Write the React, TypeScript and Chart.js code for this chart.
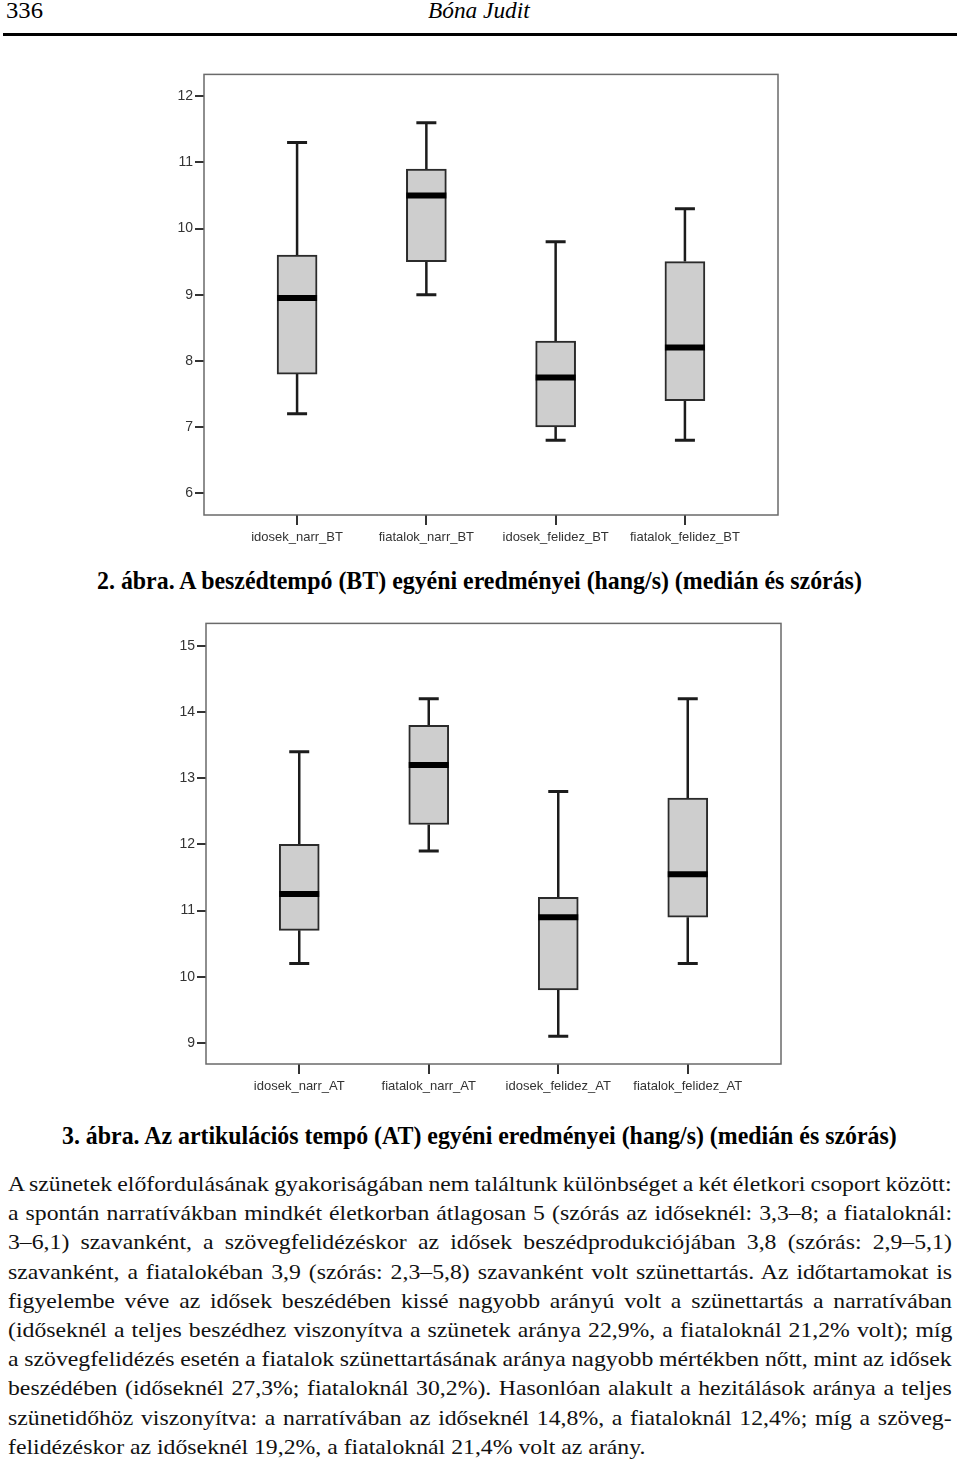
import React, { useEffect, useLayoutEffect, useRef } from "react";
import { Chart, registerables } from "chart.js";

Chart.register(...registerables);

// ---- Figure 2: beszédtempó (BT) ----
const btCategories = ["idosek_narr_BT", "fiatalok_narr_BT", "idosek_felidez_BT", "fiatalok_felidez_BT"];
const btMin = [7.2, 9.0, 6.8, 6.8];
const btQ1 = [7.8, 9.5, 7.0, 7.4];
const btMedian = [8.95, 10.5, 7.75, 8.2];
const btQ3 = [9.6, 10.9, 8.3, 9.5];
const btMax = [11.3, 11.6, 9.8, 10.3];
const btTicks = [6, 7, 8, 9, 10, 11, 12];

// ---- Figure 3: artikulációs tempó (AT) ----
const atCategories = ["idosek_narr_AT", "fiatalok_narr_AT", "idosek_felidez_AT", "fiatalok_felidez_AT"];
const atMin = [10.2, 11.9, 9.1, 10.2];
const atQ1 = [10.7, 12.3, 9.8, 10.9];
const atMedian = [11.25, 13.2, 10.9, 11.55];
const atQ3 = [12.0, 13.8, 11.2, 12.7];
const atMax = [13.4, 14.2, 12.8, 14.2];
const atTicks = [9, 10, 11, 12, 13, 14, 15];

const headerPage = "336";
const headerAuthor = "Bóna Judit";
const caption2 = "2. ábra. A beszédtempó (BT) egyéni eredményei (hang/s) (medián és szórás)";
const caption3 = "3. ábra. Az artikulációs tempó (AT) egyéni eredményei (hang/s) (medián és szórás)";

const bodyLines = [
  "A szünetek előfordulásának gyakoriságában nem találtunk különbséget a két életkori csoport között:",
  "a spontán narratívákban mindkét életkorban átlagosan 5 (szórás az időseknél: 3,3–8; a fiataloknál:",
  "3–6,1) szavanként, a szövegfelidézéskor az idősek beszédprodukciójában 3,8 (szórás: 2,9–5,1)",
  "szavanként, a fiatalokéban 3,9 (szórás: 2,3–5,8) szavanként volt szünettartás. Az időtartamokat is",
  "figyelembe véve az idősek beszédében kissé nagyobb arányú volt a szünettartás a narratívában",
  "(időseknél a teljes beszédhez viszonyítva a szünetek aránya 22,9%, a fiataloknál 21,2% volt); míg",
  "a szövegfelidézés esetén a fiatalok szünettartásának aránya nagyobb mértékben nőtt, mint az idősek",
  "beszédében (időseknél 27,3%; fiataloknál 30,2%). Hasonlóan alakult a hezitálások aránya a teljes",
  "szünetidőhöz viszonyítva: a narratívában az időseknél 14,8%, a fiataloknál 12,4%; míg a szöveg-",
  "felidézéskor az időseknél 19,2%, a fiataloknál 21,4% volt az arány.",
];

const SERIF = '"Liberation Serif", "Times New Roman", serif';
const SANS = '"Liberation Sans", Arial, sans-serif';

type BoxProps = {
  categories: string[];
  mins: number[];
  q1s: number[];
  medians: number[];
  q3s: number[];
  maxs: number[];
  ticks: number[];
  yMin: number;
  yMax: number;
  left: number;
  top: number;
  width: number;
  height: number;
};

function BoxChart(p: BoxProps) {
  const ref = useRef<HTMLCanvasElement>(null);
  useEffect(() => {
    const boxPlugin = {
      id: "boxparts",
      beforeDatasetsDraw(chart: any) {
        const { ctx } = chart;
        const xs = chart.scales.x;
        const ys = chart.scales.y;
        ctx.save();
        ctx.strokeStyle = "#1c1c1c";
        for (let i = 0; i < p.categories.length; i++) {
          const px = xs.getPixelForValue(i);
          ctx.lineWidth = 2.5;
          ctx.beginPath();
          ctx.moveTo(px, ys.getPixelForValue(p.q3s[i]));
          ctx.lineTo(px, ys.getPixelForValue(p.maxs[i]));
          ctx.moveTo(px, ys.getPixelForValue(p.q1s[i]));
          ctx.lineTo(px, ys.getPixelForValue(p.mins[i]));
          ctx.stroke();
          ctx.lineWidth = 3;
          ctx.beginPath();
          ctx.moveTo(px - 10, ys.getPixelForValue(p.maxs[i]));
          ctx.lineTo(px + 10, ys.getPixelForValue(p.maxs[i]));
          ctx.moveTo(px - 10, ys.getPixelForValue(p.mins[i]));
          ctx.lineTo(px + 10, ys.getPixelForValue(p.mins[i]));
          ctx.stroke();
        }
        ctx.restore();
      },
      afterDatasetsDraw(chart: any) {
        const { ctx } = chart;
        const xs = chart.scales.x;
        const ys = chart.scales.y;
        ctx.save();
        ctx.strokeStyle = "#000";
        ctx.lineWidth = 6;
        for (let i = 0; i < p.categories.length; i++) {
          const px = xs.getPixelForValue(i);
          const py = ys.getPixelForValue(p.medians[i]);
          ctx.beginPath();
          ctx.moveTo(px - 20, py);
          ctx.lineTo(px + 20, py);
          ctx.stroke();
        }
        ctx.restore();
      },
    };
    const framePlugin = {
      id: "frame",
      afterDraw(chart: any) {
        const { ctx, chartArea: a } = chart;
        ctx.save();
        ctx.strokeStyle = "#6a6a6a";
        ctx.lineWidth = 1.5;
        ctx.strokeRect(a.left, a.top, a.right - a.left, a.bottom - a.top);
        ctx.restore();
      },
    };
    const chart = new Chart(ref.current as HTMLCanvasElement, {
      type: "bar",
      data: {
        datasets: [
          {
            data: p.categories.map((_, i) => ({ x: i, y: [p.q1s[i], p.q3s[i]] })) as any,
            backgroundColor: "#cecece",
            borderColor: "#2b2b2b",
            borderWidth: 2,
            borderSkipped: false,
            barThickness: 40,
          },
        ],
      },
      options: {
        animation: false,
        responsive: false,
        maintainAspectRatio: false,
        layout: { padding: { top: 10, right: 10, left: 0, bottom: 0 } },
        plugins: { legend: { display: false }, tooltip: { enabled: false } },
        scales: {
          x: {
            type: "linear",
            min: -0.72,
            max: 3.72,
            offset: false,
            afterBuildTicks: (s: any) => {
              s.ticks = p.categories.map((_, i) => ({ value: i }));
            },
            afterFit: (s: any) => {
              s.height = 40;
            },
            ticks: {
              autoSkip: false,
              maxRotation: 0,
              padding: 5,
              color: "#333",
              font: { family: SANS, size: 13 },
              callback: (v: any) => p.categories[Math.round(Number(v))] ?? "",
            },
            grid: { drawOnChartArea: false, offset: false, tickLength: 10, color: "#333", lineWidth: 2 },
            border: { display: false },
          },
          y: {
            type: "linear",
            min: p.yMin,
            max: p.yMax,
            afterBuildTicks: (s: any) => {
              s.ticks = p.ticks.map((v) => ({ value: v }));
            },
            afterFit: (s: any) => {
              s.width = 64;
            },
            ticks: {
              padding: 2,
              color: "#333",
              font: { family: SANS, size: 14 },
              callback: (v: any) => String(v),
            },
            grid: { drawOnChartArea: false, tickLength: 9, color: "#333", lineWidth: 2 },
            border: { display: false },
          },
        },
      } as any,
      plugins: [boxPlugin, framePlugin],
    });
    return () => chart.destroy();
  }, []);
  return (
    <canvas
      ref={ref}
      width={p.width}
      height={p.height}
      style={{ position: "absolute", left: p.left, top: p.top, width: p.width, height: p.height }}
    />
  );
}

function FitText(props: {
  text: string;
  left: number;
  baseline: number;
  width: number;
  fontSize: number;
  bold?: boolean;
  italic?: boolean;
}) {
  const ref = useRef<HTMLSpanElement>(null);
  useLayoutEffect(() => {
    const el = ref.current;
    if (!el) return;
    const w = el.offsetWidth || 1;
    el.style.transform = `scaleX(${props.width / w})`;
  }, []);
  return (
    <span
      ref={ref}
      style={{
        position: "absolute",
        left: props.left,
        top: props.baseline - 0.8375 * props.fontSize,
        fontSize: props.fontSize,
        lineHeight: `${props.fontSize}px`,
        fontFamily: SERIF,
        fontWeight: props.bold ? "bold" : "normal",
        fontStyle: props.italic ? "italic" : "normal",
        whiteSpace: "nowrap",
        transformOrigin: "left top",
        color: "#000",
      }}
    >
      {props.text}
    </span>
  );
}

const TEXT_LEFT = 8;
const TEXT_WIDTH = 944;
const LAST_LINE_WIDTH = 638;
const LINE_H = 29.2;
const BODY_FS = 22;

function Paragraph() {
  const wrapRef = useRef<HTMLDivElement>(null);
  const lineRefs = useRef<(HTMLSpanElement | null)[]>([]);
  useLayoutEffect(() => {
    const spans = lineRefs.current;
    const last = spans[spans.length - 1];
    if (!last || !wrapRef.current) return;
    const s = LAST_LINE_WIDTH / (last.offsetWidth || 1);
    const W = TEXT_WIDTH / s;
    wrapRef.current.style.transform = `scaleX(${s})`;
    wrapRef.current.style.width = `${W}px`;
    spans.forEach((sp, i) => {
      if (!sp || i === spans.length - 1) return;
      const n = (bodyLines[i].match(/ /g) || []).length || 1;
      const ws = (W - sp.offsetWidth) / n;
      sp.style.wordSpacing = `${ws}px`;
    });
  }, []);
  return (
    <div
      ref={wrapRef}
      style={{
        position: "absolute",
        left: TEXT_LEFT,
        top: 1191 - 22,
        width: TEXT_WIDTH,
        transformOrigin: "left top",
        fontFamily: SERIF,
        fontSize: BODY_FS,
        lineHeight: `${LINE_H}px`,
        color: "#111",
      }}
    >
      {bodyLines.map((ln, i) => (
        <div key={i} style={{ height: LINE_H, whiteSpace: "nowrap" }}>
          <span
            ref={(el) => {
              lineRefs.current[i] = el;
            }}
          >
            {ln}
          </span>
        </div>
      ))}
    </div>
  );
}

export default function App() {
  return (
    <div
      style={{
        position: "absolute",
        left: 0,
        top: 0,
        width: 960,
        height: 1468,
        overflow: "hidden",
        background: "#fff",
      }}
    >
      <FitText text={headerPage} left={6} baseline={18} width={37} fontSize={24} />
      <FitText text={headerAuthor} left={428} baseline={18} width={102} fontSize={24} italic />
      <div style={{ position: "absolute", left: 3, top: 33, width: 954, height: 2.5, background: "#000" }} />

      <BoxChart
        categories={btCategories}
        mins={btMin}
        q1s={btQ1}
        medians={btMedian}
        q3s={btQ3}
        maxs={btMax}
        ticks={btTicks}
        yMin={5.67}
        yMax={12.33}
        left={140}
        top={64}
        width={648}
        height={491}
      />
      <FitText text={caption2} left={97} baseline={589} width={765} fontSize={25} bold />

      <BoxChart
        categories={atCategories}
        mins={atMin}
        q1s={atQ1}
        medians={atMedian}
        q3s={atQ3}
        maxs={atMax}
        ticks={atTicks}
        yMin={8.68}
        yMax={15.34}
        left={142}
        top={613}
        width={649}
        height={491}
      />
      <FitText text={caption3} left={62} baseline={1144} width={835} fontSize={25} bold />

      <Paragraph />
    </div>
  );
}
